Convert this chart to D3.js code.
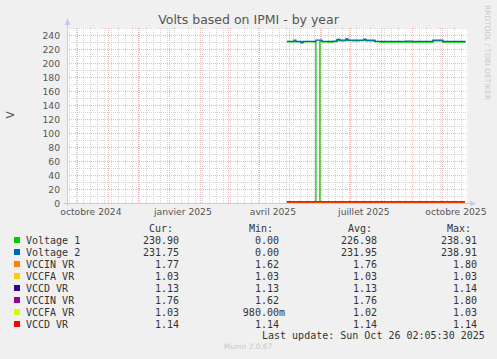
<!DOCTYPE html>
<html><head><meta charset="utf-8">
<script src="https://cdn.jsdelivr.net/npm/d3@7/dist/d3.min.js"></script>
<style>
html,body{margin:0;padding:0;background:#f0f0f0;}
svg{display:block;}
</style></head>
<body>
<svg id="c" width="497" height="359"></svg>
<script>
// ---- data ----
const title = "Volts based on IPMI - by year";
const yLabel = "V";
const yTicks = [0,20,40,60,80,100,120,140,160,180,200,220,240];
const xTickLabels = ["octobre 2024","janvier 2025","avril 2025","juillet 2025","octobre 2025"];
const xTickDates = ["2024-10-01","2025-01-01","2025-04-01","2025-07-01","2025-10-01"];
const dates = ["2025-04-29","2025-05-04","2025-05-06","2025-05-08","2025-05-13","2025-05-15","2025-05-20","2025-05-24","2025-05-28","2025-06-01","2025-06-03","2025-06-09","2025-06-14","2025-06-18","2025-06-21","2025-06-27","2025-06-29","2025-07-04","2025-07-10","2025-07-15","2025-07-17","2025-07-26","2025-07-31","2025-08-04","2025-08-10","2025-08-15","2025-08-20","2025-08-26","2025-09-01","2025-09-06","2025-09-12","2025-09-22","2025-10-02","2025-10-08","2025-10-14","2025-10-20","2025-10-24"];
const voltage1 = [230.2,230.2,230.2,230.2,229.8,230.2,230.4,230.2,0,231.5,230.2,230.0,230.4,232.0,231.6,233.0,232.0,231.8,232.0,233.0,231.8,230.4,229.8,230.0,229.8,230.0,229.8,230.0,229.8,230.0,229.8,231.8,229.8,229.8,230.0,229.8,230.9];
const voltage2 = [231.0,231.0,232.8,231.0,228.8,231.0,231.0,231.0,232.6,232.6,231.0,231.0,231.2,233.8,232.6,234.5,232.8,232.6,232.6,234.0,232.6,231.0,230.8,231.0,230.8,231.0,231.0,231.2,230.8,231.0,231.0,232.6,231.0,230.8,231.0,231.0,231.75];
const smallDates = ["2025-04-29","2025-10-24"];
const vccin1 = [1.77,1.77];
const vccfa1 = [1.03,1.03];
const vccd1 = [1.13,1.13];
const vccin2 = [1.76,1.76];
const vccfa2 = [1.03,1.03];
const vccd2 = [1.14,1.14];
const seriesNames = ["Voltage 1","Voltage 2","VCCIN VR","VCCFA VR","VCCD VR","VCCIN VR","VCCFA VR","VCCD VR"];
const seriesColors = ["#00cc00","#0066b3","#ff8000","#ffcc00","#330099","#990099","#ccff00","#ff0000"];
const curVals = [230.90,231.75,1.77,1.03,1.13,1.76,1.03,1.14];
const minVals = [0.00,0.00,1.62,1.03,1.13,1.62,0.98,1.14];
const avgVals = [226.98,231.95,1.76,1.03,1.13,1.76,1.02,1.14];
const maxVals = [238.91,238.91,1.80,1.03,1.14,1.80,1.03,1.14];
const lastUpdate = "Last update: Sun Oct 26 02:05:30 2025";
const footer = "Munin 2.0.67";
const watermark = "RRDTOOL / TOBI OETIKER";

// ---- drawing ----
const svg = d3.select("#c");
const parse = d3.timeParse("%Y-%m-%d");
const end = new Date(2025,9,26,2,5,30);
const start = d3.timeDay.offset(end,-400);
const L=67,R=467,T=28,B=203;
const x = d3.scaleTime().domain([start,end]).range([L,R]);
const y = d3.scaleLinear().domain([0,250]).range([B,T]);

svg.append("rect").attr("x",0).attr("y",0).attr("width",497).attr("height",359).attr("fill","#f0f0f0");
svg.append("rect").attr("x",L).attr("y",T).attr("width",R-L).attr("height",B-T).attr("fill","#ffffff");

const grid = svg.append("g").attr("shape-rendering","crispEdges");
const minorC = "#d6d6d6", majorC = "#ecb4b4";
// minor horizontal
d3.range(10,251,20).forEach(v=>{
  grid.append("line").attr("x1",L).attr("x2",R).attr("y1",Math.round(y(v))+0.5).attr("y2",Math.round(y(v))+0.5)
    .attr("stroke",minorC).attr("stroke-dasharray","1,1");
});
// minor vertical (weekly)
d3.timeMonday.range(start,end).forEach(d=>{
  const xx=Math.round(x(d))+0.5;
  grid.append("line").attr("x1",xx).attr("x2",xx).attr("y1",T).attr("y2",B)
    .attr("stroke",minorC).attr("stroke-dasharray","1,1");
});
// major horizontal
yTicks.filter(v=>v>0).forEach(v=>{
  grid.append("line").attr("x1",L).attr("x2",R).attr("y1",Math.round(y(v))+0.5).attr("y2",Math.round(y(v))+0.5)
    .attr("stroke",majorC).attr("stroke-dasharray","1,1");
});
// major vertical (monthly)
d3.timeMonth.range(start,end).forEach(d=>{
  const xx=Math.round(x(d))+0.5;
  grid.append("line").attr("x1",xx).attr("x2",xx).attr("y1",T).attr("y2",B)
    .attr("stroke",majorC).attr("stroke-dasharray","1,1");
});

// y tick labels
const tickFont = "DejaVu Sans";
svg.append("g").selectAll("text").data(yTicks).join("text")
  .attr("x",60).attr("y",d=>y(d)+3.5).attr("text-anchor","end")
  .attr("font-family",tickFont).attr("font-size","9.2px").attr("fill","#555")
  .text(d=>d);
// x tick labels
svg.append("g").selectAll("text").data(xTickDates).join("text")
  .attr("x",d=>x(d3.timeDay.offset(parse(d),14))).attr("y",215).attr("text-anchor","middle")
  .attr("font-family",tickFont).attr("font-size","9.2px").attr("fill","#555")
  .text((d,i)=>xTickLabels[i]);

// series
const line = d3.line().x(d=>x(d[0])).y(d=>y(d[1])).curve(d3.curveStepAfter);
const plot = svg.append("g");
function series(ds, vals, color){
  const pts = ds.map((d,i)=>[parse(d), vals[i]]);
  plot.append("path").attr("d",line(pts)).attr("fill","none").attr("stroke",color).attr("stroke-width",1.3);
}
series(dates, voltage1, seriesColors[0]);
series(dates, voltage2, seriesColors[1]);
series(smallDates, vccin1, seriesColors[2]);
series(smallDates, vccfa1, seriesColors[3]);
series(smallDates, vccd1, seriesColors[4]);
series(smallDates, vccin2, seriesColors[5]);
series(smallDates, vccfa2, seriesColors[6]);
series(smallDates, vccd2, seriesColors[7]);

// axes with arrows
const axc = "#c8c8f0";
svg.append("line").attr("x1",L+0.5).attr("x2",L+0.5).attr("y1",B+3).attr("y2",T-6).attr("stroke",axc).attr("shape-rendering","crispEdges");
svg.append("line").attr("x1",L-3).attr("x2",R+4).attr("y1",B+0.5).attr("y2",B+0.5).attr("stroke",axc).attr("shape-rendering","crispEdges");
svg.append("path").attr("d",`M${L-2.5},${T-3} L${L+3.5},${T-3} L${L+0.5},${T-10} Z`).attr("fill",axc);
svg.append("path").attr("d",`M${R+3},${B-2.5} L${R+3},${B+3.5} L${R+9},${B+0.5} Z`).attr("fill",axc);

// title
svg.append("text").attr("x",248.5).attr("y",24).attr("text-anchor","middle")
  .attr("font-family","DejaVu Sans").attr("font-size","12.5px").attr("fill","#555").text(title);
// y label
svg.append("text").attr("transform","translate(14,115) rotate(-90)").attr("text-anchor","middle")
  .attr("font-family","DejaVu Sans").attr("font-size","10.5px").attr("fill","#555").text(yLabel);
// watermark
svg.append("text").attr("transform","translate(485,5) rotate(90)").attr("text-anchor","start")
  .attr("font-family","DejaVu Sans").attr("font-size","7.4px").attr("fill","#c8c8c8").text(watermark);

// legend
const mono = "DejaVu Sans Mono";
const lg = svg.append("g").attr("font-family",mono).attr("font-size","10px").attr("fill","#333");
const headers = [["Cur:",149],["Min:",249],["Avg:",348],["Max:",447]];
headers.forEach(h=>lg.append("text").attr("x",h[1]).attr("y",232).text(h[0]));
function fmt(v){
  if(v!==0 && Math.abs(v)<1) return (v*1000).toFixed(2)+"m";
  return v.toFixed(2);
}
const cols = [[curVals,179],[minVals,279],[avgVals,377],[maxVals,477]];
seriesNames.forEach((n,i)=>{
  const yy = 244 + 12*i;
  lg.append("rect").attr("x",14).attr("y",yy-7).attr("width",6).attr("height",6).attr("fill",seriesColors[i]);
  lg.append("text").attr("x",26).attr("y",yy).text(n);
  cols.forEach(c=>{
    const s = fmt(c[0][i]);
    const off = s.endsWith("m") ? 6 : 0;
    lg.append("text").attr("x",c[1]+off).attr("y",yy).attr("text-anchor","end").text(s);
  });
});
lg.append("text").attr("x",262).attr("y",339).text(lastUpdate);
svg.append("text").attr("x",248).attr("y",349).attr("text-anchor","middle")
  .attr("font-family","DejaVu Sans").attr("font-size","7.4px").attr("fill","#c8c8c8").text(footer);
</script>
</body></html>
